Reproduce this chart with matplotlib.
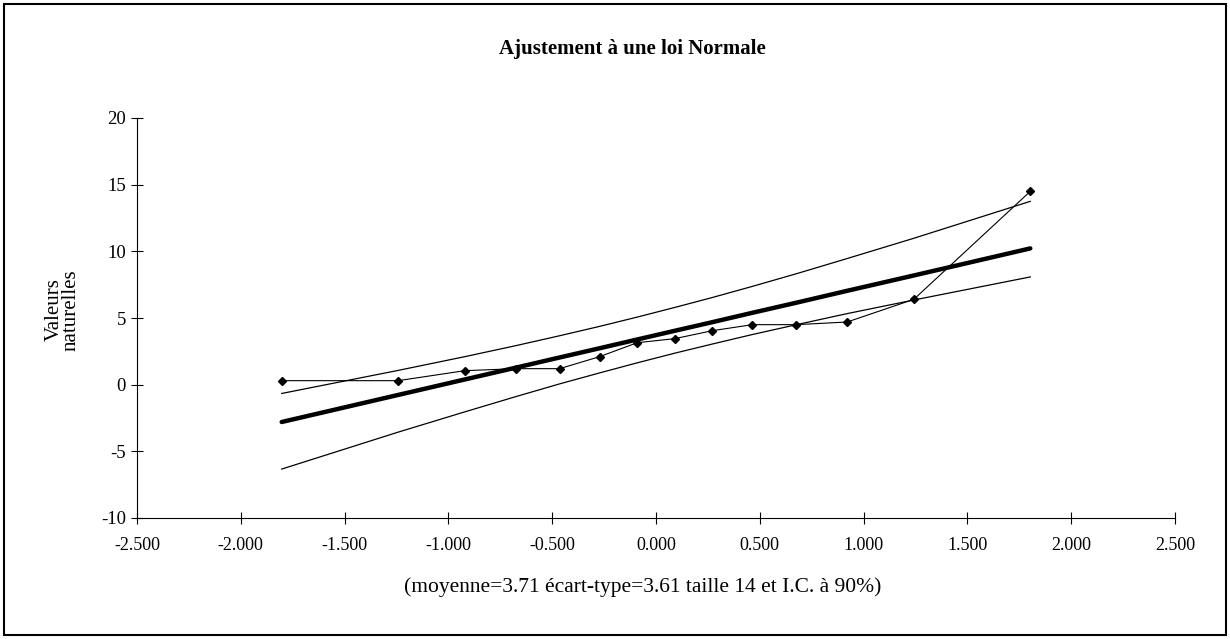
import matplotlib
matplotlib.use('Agg')
import matplotlib.pyplot as plt
from matplotlib.patches import Rectangle

# normal quantiles of the 14 observations
quantiles = [-1.803, -1.242, -0.921, -0.674, -0.464, -0.272, -0.090,
             0.090, 0.272, 0.464, 0.674, 0.921, 1.242, 1.803]
# observed (sorted) values
observed = [0.30, 0.30, 1.05, 1.20, 1.20, 2.10, 3.15,
            3.45, 4.05, 4.50, 4.50, 4.70, 6.40, 14.50]
# fitted normal line (moyenne + ecart-type * z)
fitted = [-2.80, -0.77, 0.39, 1.28, 2.04, 2.73, 3.39,
          4.04, 4.69, 5.39, 6.14, 7.04, 8.19, 10.22]
# 90% confidence band
upper = [-0.66, 1.07, 2.10, 2.93, 3.67, 4.37, 5.07,
         5.79, 6.54, 7.37, 8.31, 9.46, 10.98, 13.75]
lower = [-6.33, -3.56, -2.04, -0.89, 0.06, 0.88, 1.64,
         2.36, 3.05, 3.76, 4.49, 5.33, 6.35, 8.08]

xticks = [-2.5, -2.0, -1.5, -1.0, -0.5, 0.0, 0.5, 1.0, 1.5, 2.0, 2.5]
yticks = [-10, -5, 0, 5, 10, 15, 20]

plt.rcParams['font.family'] = ['Liberation Serif', 'DejaVu Serif']

fig = plt.figure(figsize=(12.3, 6.39), dpi=100)
fig.patches.append(Rectangle((0.0035, 0.006), 0.9935, 0.988, transform=fig.transFigure,
                             fill=False, edgecolor='black', linewidth=1.5))

ax = fig.add_axes([137 / 1230, 1 - 518 / 639, 1038 / 1230, 400 / 639])

ax.plot(quantiles, upper, color='black', linewidth=0.9)
ax.plot(quantiles, lower, color='black', linewidth=0.9)
ax.plot(quantiles, fitted, color='black', linewidth=3.2, solid_capstyle='round')
ax.plot(quantiles, observed, color='black', linewidth=0.8,
        marker='D', markersize=4.5)

ax.set_xlim(-2.5, 2.5)
ax.set_ylim(-10, 20)
ax.set_xticks(xticks)
ax.set_xticklabels(['%.3f' % v for v in xticks])
ax.set_yticks(yticks)
ax.set_yticklabels([str(v) for v in yticks])
ax.tick_params(direction='inout', length=8, width=0.8)
ax.tick_params(axis='x', pad=10, labelsize=13)
ax.tick_params(axis='y', pad=4, labelsize=13.5)
ax.spines['top'].set_visible(False)
ax.spines['right'].set_visible(False)
ax.spines['left'].set_linewidth(0.8)
ax.spines['bottom'].set_linewidth(0.8)

ax.set_ylabel('Valeurs\nnaturelles', fontsize=15, linespacing=0.9)
ax.yaxis.set_label_coords(-0.054, 0.52)

fig.text(632 / 1230, 1 - 49 / 639, 'Ajustement à une loi Normale',
         ha='center', va='center', fontsize=15, fontweight='bold')
fig.text(643 / 1230, 1 - 587 / 639,
         '(moyenne=3.71 écart-type=3.61 taille 14 et I.C. à 90%)',
         ha='center', va='center', fontsize=15.5)

fig.savefig('out.png', dpi=100)
